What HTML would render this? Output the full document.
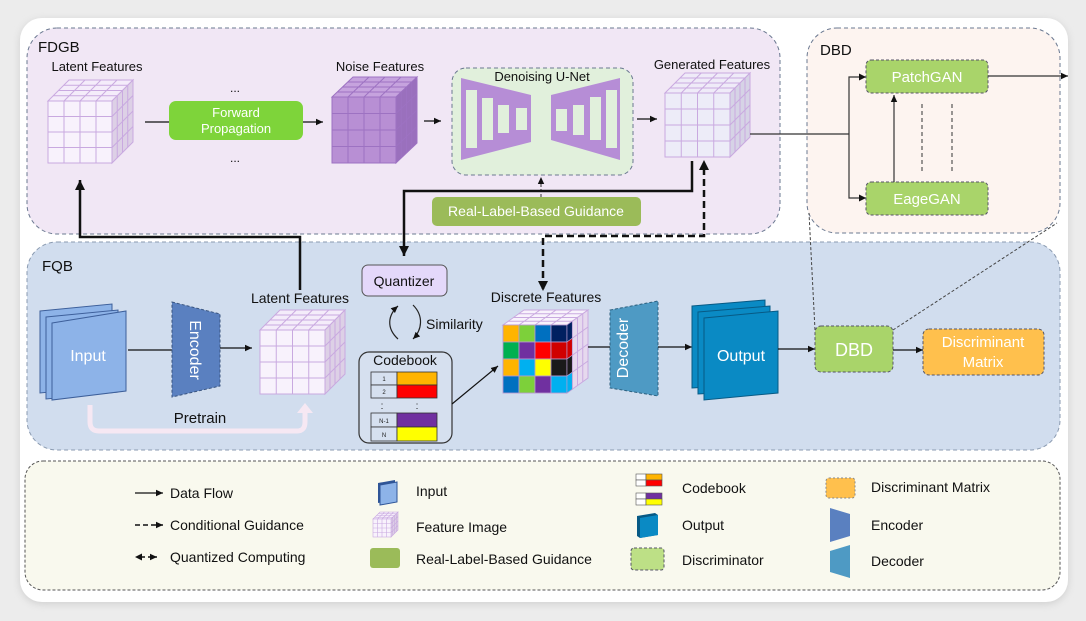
<!DOCTYPE html>
<html><head><meta charset="utf-8">
<style>
html,body{margin:0;padding:0;background:#ececec;}
svg{display:block;font-family:"Liberation Sans",Arial,sans-serif;}
</style></head>
<body>
<svg id="s" width="1086" height="621" viewBox="0 0 1086 621" xmlns="http://www.w3.org/2000/svg">
<defs>
<marker id="ah" markerWidth="8" markerHeight="8" refX="7" refY="4" orient="auto" markerUnits="userSpaceOnUse"><path d="M0,0.8 L7,4 L0,7.2 z" fill="#111"/></marker>
<marker id="ahb" markerWidth="12" markerHeight="12" refX="10" refY="6" orient="auto" markerUnits="userSpaceOnUse"><path d="M0,1 L10,6 L0,11 z" fill="#111"/></marker>
<filter id="sh" x="-5%" y="-5%" width="110%" height="110%"><feGaussianBlur stdDeviation="4"/></filter>
</defs>
<rect x="0" y="0" width="1086" height="621" fill="#ececec"/>
<rect x="20" y="20" width="1048" height="584" rx="22" fill="#cfcfcf" filter="url(#sh)"/>
<rect x="20" y="18" width="1048" height="584" rx="22" fill="#ffffff"/>

<!-- Panels -->
<rect x="27" y="28" width="753" height="206" rx="30" fill="#f1e7f5" stroke="#6a7890" stroke-dasharray="4,3"/>
<rect x="807" y="28" width="253" height="205" rx="30" fill="#fdf4f0" stroke="#6a7890" stroke-dasharray="4,3"/>
<rect x="27" y="242" width="1033" height="208" rx="30" fill="#d1ddee" stroke="#8a9ab0" stroke-dasharray="4,3"/>
<rect x="25" y="461" width="1035" height="129" rx="18" fill="#f9f9ee" stroke="#555" stroke-dasharray="3,2"/>

<text x="38" y="52" font-size="15" fill="#111">FDGB</text>
<text x="820" y="55" font-size="15" fill="#111">DBD</text>
<text x="42" y="271" font-size="15" fill="#111">FQB</text>

<text x="97" y="71" font-size="13" fill="#111" text-anchor="middle">Latent Features</text>
<text x="380" y="71" font-size="13" fill="#111" text-anchor="middle">Noise Features</text>
<text x="712" y="69" font-size="13" fill="#111" text-anchor="middle">Generated Features</text>
<text x="300" y="303" font-size="14" fill="#111" text-anchor="middle">Latent Features</text>
<text x="546" y="302" font-size="14" fill="#111" text-anchor="middle">Discrete Features</text>

<g id="cubes"></g>

<!-- Forward propagation -->
<line x1="145" y1="122" x2="169" y2="122" stroke="#111" stroke-width="1.2"/>
<rect x="169" y="101" width="134" height="39" rx="7" fill="#7ed43a"/>
<text x="236" y="117" font-size="13" fill="#fff" text-anchor="middle">Forward</text>
<text x="236" y="133" font-size="13" fill="#fff" text-anchor="middle">Propagation</text>
<line x1="303" y1="122" x2="323" y2="122" stroke="#111" stroke-width="1.2" marker-end="url(#ah)"/>
<text x="235" y="92" font-size="12" fill="#111" text-anchor="middle">...</text>
<text x="235" y="162" font-size="12" fill="#111" text-anchor="middle">...</text>
<line x1="424" y1="121" x2="441" y2="121" stroke="#111" stroke-width="1.2" marker-end="url(#ah)"/>

<!-- U-Net -->
<rect x="452" y="68" width="181" height="107" rx="14" fill="#e1f0dc" stroke="#6a7890" stroke-dasharray="4,3"/>
<text x="542" y="81" font-size="13" fill="#111" text-anchor="middle">Denoising U-Net</text>
<polygon points="461,78 531,95 531,142 461,160" fill="#b68dd6"/>
<rect x="466" y="90" width="11" height="58" fill="#e1f0dc"/>
<rect x="482" y="98" width="11" height="42" fill="#e1f0dc"/>
<rect x="498" y="105" width="11" height="28" fill="#e1f0dc"/>
<rect x="516" y="108" width="11" height="22" fill="#e1f0dc"/>
<polygon points="551,95 620,78 620,160 551,140" fill="#b68dd6"/>
<rect x="556" y="109" width="11" height="22" fill="#e1f0dc"/>
<rect x="573" y="105" width="11" height="30" fill="#e1f0dc"/>
<rect x="590" y="97" width="11" height="43" fill="#e1f0dc"/>
<rect x="606" y="90" width="11" height="58" fill="#e1f0dc"/>
<line x1="637" y1="119" x2="657" y2="119" stroke="#111" stroke-width="1.2" marker-end="url(#ah)"/>

<!-- Real label -->
<rect x="432" y="197" width="209" height="29" rx="5" fill="#9bbb59"/>
<text x="536" y="216" font-size="14" fill="#fff" text-anchor="middle">Real-Label-Based Guidance</text>
<line x1="541" y1="197" x2="541" y2="177" stroke="#333" stroke-width="1" stroke-dasharray="3,2" marker-end="url(#ah)"/>

<!-- thick lines -->
<polyline points="692,161 692,191 404,191 404,256" fill="none" stroke="#111" stroke-width="2.5" marker-end="url(#ahb)"/>
<polyline points="543,289 543,236 704,236 704,163" fill="none" stroke="#111" stroke-width="2.5" stroke-dasharray="7,4"/>
<path d="M699,170 L704,160 L709,170 z" fill="#111"/>
<path d="M538,281 L543,291 L548,281 z" fill="#111"/>
<polyline points="300,290 300,237 80,237 80,180" fill="none" stroke="#111" stroke-width="2.5" marker-end="url(#ahb)"/>

<!-- Quantizer -->
<rect x="362" y="265" width="85" height="31" rx="6" fill="#e4d8fa" stroke="#555" stroke-width="1"/>
<text x="404" y="286" font-size="14" fill="#111" text-anchor="middle">Quantizer</text>
<path d="M398,339 C386,328 388,315 398,306" fill="none" stroke="#222" stroke-width="1.2" marker-end="url(#ah)"/>
<path d="M413,305 C424,316 422,330 413,339" fill="none" stroke="#222" stroke-width="1.2" marker-end="url(#ah)"/>
<text x="426" y="329" font-size="14" fill="#111">Similarity</text>

<!-- Codebook -->
<rect x="359" y="352" width="93" height="91" rx="10" fill="#d6e0ef" stroke="#333" stroke-width="1.2"/>
<text x="405" y="365" font-size="14" fill="#111" text-anchor="middle">Codebook</text>
<g stroke="#333" stroke-width="0.8">
<rect x="371" y="372" width="26" height="13" fill="#d6e0ef"/><rect x="397" y="372" width="40" height="13" fill="#ffb400"/>
<rect x="371" y="385" width="26" height="13" fill="#d6e0ef"/><rect x="397" y="385" width="40" height="13" fill="#ff0000"/>
<rect x="371" y="413" width="26" height="14" fill="#d6e0ef"/><rect x="397" y="413" width="40" height="14" fill="#7030a0"/>
<rect x="371" y="427" width="26" height="14" fill="#d6e0ef"/><rect x="397" y="427" width="40" height="14" fill="#ffff00"/>
</g>
<g font-size="6" fill="#222" text-anchor="middle">
<text x="384" y="381">1</text><text x="384" y="394">2</text><text x="384" y="423">N-1</text><text x="384" y="437">N</text></g>
<text x="382" y="409" font-size="10" fill="#222" text-anchor="middle">:</text>
<text x="417" y="409" font-size="10" fill="#222" text-anchor="middle">:</text>
<line x1="452" y1="404" x2="498" y2="366" stroke="#111" stroke-width="1.2" marker-end="url(#ah)"/>

<!-- Input stack -->
<polygon points="40,311 112,304 112,386 40,393" fill="#8db3e8" stroke="#3d5f9a"/>
<polygon points="46,317 118,310 118,392 46,399" fill="#8db3e8" stroke="#3d5f9a"/>
<polygon points="52,323 126,311 126,391 52,400" fill="#8db3e8" stroke="#3d5f9a"/>
<text x="88" y="361" font-size="16" fill="#fff" text-anchor="middle">Input</text>
<line x1="128" y1="350" x2="172" y2="350" stroke="#111" stroke-width="1.2"/>
<polygon points="172,302 220,314 220,386 172,397" fill="#5a80c0" stroke="#3a5580" stroke-dasharray="3,2"/>
<text x="0" y="0" font-size="16" fill="#fff" text-anchor="middle" transform="translate(190,350) rotate(90)">Encoder</text>
<line x1="220" y1="348" x2="252" y2="348" stroke="#111" stroke-width="1.2" marker-end="url(#ah)"/>
<!-- pretrain -->
<path d="M90,405 L90,422 Q90,431 99,431 L297,431 Q305,431 305,422 L305,412" fill="none" stroke="#f6e8f3" stroke-width="5"/>
<path d="M297,413 L305,403 L313,413 z" fill="#f6e8f3"/>
<text x="200" y="423" font-size="15" fill="#111" text-anchor="middle">Pretrain</text>

<!-- Decoder / output -->
<line x1="588" y1="347" x2="610" y2="347" stroke="#111" stroke-width="1.2"/>
<polygon points="610,310 658,301 658,396 610,388" fill="#4e9ac4" stroke="#2d607f" stroke-dasharray="3,2"/>
<text x="0" y="0" font-size="16" fill="#fff" text-anchor="middle" transform="translate(628,348) rotate(-90)">Decoder</text>
<line x1="658" y1="347" x2="692" y2="347" stroke="#111" stroke-width="1.2" marker-end="url(#ah)"/>
<polygon points="692,306 765,300 765,384 692,388" fill="#0a8ac4" stroke="#075a85"/>
<polygon points="698,312 770,306 770,390 698,394" fill="#0a8ac4" stroke="#075a85"/>
<polygon points="704,318 778,311 778,393 704,400" fill="#0a8ac4" stroke="#075a85"/>
<text x="741" y="361" font-size="16" fill="#fff" text-anchor="middle">Output</text>
<line x1="778" y1="349" x2="815" y2="349" stroke="#111" stroke-width="1.2" marker-end="url(#ah)"/>

<!-- DBD small & matrix -->
<line x1="815" y1="330" x2="809" y2="213" stroke="#444" stroke-width="1" stroke-dasharray="3,2"/>
<line x1="893" y1="330" x2="1057" y2="223" stroke="#444" stroke-width="1" stroke-dasharray="3,2"/>
<rect x="815" y="326" width="78" height="46" rx="6" fill="#a9d46a" stroke="#556" stroke-dasharray="3,2"/>
<text x="854" y="356" font-size="18" fill="#fff" text-anchor="middle">DBD</text>
<line x1="893" y1="350" x2="923" y2="350" stroke="#111" stroke-width="1.2" marker-end="url(#ah)"/>
<rect x="923" y="329" width="121" height="46" rx="6" fill="#ffc04d" stroke="#556" stroke-dasharray="3,2"/>
<text x="983" y="347" font-size="15" fill="#fff" text-anchor="middle">Discriminant</text>
<text x="983" y="367" font-size="15" fill="#fff" text-anchor="middle">Matrix</text>

<!-- DBD big -->
<line x1="750" y1="134" x2="849" y2="134" stroke="#333" stroke-width="1.2"/>
<polyline points="866,77 849,77 849,198 866,198" fill="none" stroke="#333" stroke-width="1.2"/>
<path d="M859,73.5 L866,77 L859,80.5 z" fill="#111"/><path d="M859,194.5 L866,198 L859,201.5 z" fill="#111"/>
<rect x="866" y="60" width="122" height="33" rx="5" fill="#a9d46a" stroke="#556" stroke-dasharray="3,2"/>
<text x="927" y="82" font-size="15" fill="#fff" text-anchor="middle">PatchGAN</text>
<rect x="866" y="182" width="122" height="33" rx="5" fill="#a9d46a" stroke="#556" stroke-dasharray="3,2"/>
<text x="927" y="204" font-size="15" fill="#fff" text-anchor="middle">EageGAN</text>
<line x1="894" y1="182" x2="894" y2="95" stroke="#333" stroke-width="1.2" marker-end="url(#ah)"/>
<line x1="922" y1="104" x2="922" y2="172" stroke="#333" stroke-width="1" stroke-dasharray="4,3"/>
<line x1="952" y1="104" x2="952" y2="172" stroke="#333" stroke-width="1" stroke-dasharray="4,3"/>
<line x1="988" y1="76" x2="1068" y2="76" stroke="#333" stroke-width="1.2" marker-end="url(#ah)"/>

<!-- Legend -->
<g font-size="14" fill="#111">
<line x1="135" y1="493" x2="163" y2="493" stroke="#111" stroke-width="1.2" marker-end="url(#ah)"/>
<text x="170" y="498">Data Flow</text>
<line x1="135" y1="525" x2="163" y2="525" stroke="#111" stroke-width="1.5" stroke-dasharray="5,3" marker-end="url(#ah)"/>
<text x="170" y="530">Conditional Guidance</text>
<line x1="141" y1="557" x2="157" y2="557" stroke="#111" stroke-width="1.5" stroke-dasharray="4,3" marker-end="url(#ah)"/>
<path d="M142,553.5 L135,557 L142,560.5 z" fill="#111"/>
<text x="170" y="562">Quantized Computing</text>

<polygon points="378,483 395,480 395,500 378,503" fill="#2f5597"/>
<polygon points="380,485 397,482 397,502 380,505" fill="#8db3e8" stroke="#2f5597"/>
<text x="416" y="496">Input</text>
<g id="legcube"></g>
<text x="416" y="532">Feature Image</text>
<rect x="370" y="548" width="30" height="20" rx="3" fill="#9bbb59"/>
<text x="416" y="564">Real-Label-Based Guidance</text>

<g stroke="#555" stroke-width="0.6">
<rect x="636" y="474" width="10" height="6" fill="#fff"/><rect x="646" y="474" width="16" height="6" fill="#ffb400"/>
<rect x="636" y="480" width="10" height="6" fill="#fff"/><rect x="646" y="480" width="16" height="6" fill="#ff0000"/>
<rect x="636" y="493" width="10" height="6" fill="#fff"/><rect x="646" y="493" width="16" height="6" fill="#7030a0"/>
<rect x="636" y="499" width="10" height="6" fill="#fff"/><rect x="646" y="499" width="16" height="6" fill="#ffff00"/>
</g>
<text x="682" y="493">Codebook</text>
<polygon points="637,516 655,513 658,515 658,535 640,538 637,536" fill="#075a85"/>
<polygon points="640,518 658,515 658,535 640,538" fill="#0a8ac4"/>
<text x="682" y="530">Output</text>
<rect x="631" y="548" width="33" height="22" rx="3" fill="#bde086" stroke="#556" stroke-dasharray="3,2"/>
<text x="682" y="565">Discriminator</text>

<rect x="826" y="478" width="29" height="20" rx="3" fill="#ffc04d" stroke="#888" stroke-dasharray="2,2"/>
<text x="871" y="492">Discriminant Matrix</text>
<polygon points="830,508 850,514 850,536 830,542" fill="#5a80c0"/>
<text x="871" y="530">Encoder</text>
<polygon points="830,551 850,545 850,578 830,572" fill="#4e9ac4"/>
<text x="871" y="566">Decoder</text>
</g>
</svg>
<script>
(function(){
var NS="http://www.w3.org/2000/svg";
function el(p,t,a){var e=document.createElementNS(NS,t);for(var k in a)e.setAttribute(k,a[k]);p.appendChild(e);return e;}
function cube(g,x,y,w,h,dx,dy,o){
 var front=o.front,top=o.top,side=o.side,ln=o.line,sw=o.sw||1;
 el(g,"polygon",{points:[x,y,x+dx,y-dy,x+w+dx,y-dy,x+w,y].join(","),fill:top,stroke:ln,"stroke-width":sw});
 el(g,"polygon",{points:[x+w,y,x+w+dx,y-dy,x+w+dx,y+h-dy,x+w,y+h].join(","),fill:side,stroke:ln,"stroke-width":sw});
 el(g,"rect",{x:x,y:y,width:w,height:h,fill:front,stroke:ln,"stroke-width":sw});
 var d="";
 for(var i=1;i<4;i++){
  var fx=x+w*i/4, fy=y+h*i/4, f=i/4;
  d+="M"+fx+","+y+"V"+(y+h);
  d+="M"+x+","+fy+"H"+(x+w);
  d+="M"+fx+","+y+"L"+(fx+dx)+","+(y-dy);
  d+="M"+(x+dx*f)+","+(y-dy*f)+"H"+(x+w+dx*f);
  d+="M"+(x+w+dx*f)+","+(y-dy*f)+"V"+(y+h-dy*f);
  d+="M"+(x+w)+","+fy+"L"+(x+w+dx)+","+(fy-dy);
 }
 el(g,"path",{d:d,fill:"none",stroke:ln,"stroke-width":sw});
 if(o.colors){
  var cw=w/4,ch=h/4;
  for(var r=0;r<4;r++)for(var c=0;c<4;c++){
   el(g,"rect",{x:x+c*cw,y:y+r*ch,width:cw,height:ch,fill:o.colors[r][c],stroke:"#b89ad0","stroke-width":0.8});
  }
  for(var r2=0;r2<4;r2++){
   var yy=y+r2*ch;
   el(g,"polygon",{points:[x+w,yy,x+w+dx/4,yy-dy/4,x+w+dx/4,yy+ch-dy/4,x+w,yy+ch].join(","),fill:o.colors[r2][3],stroke:"#b89ad0","stroke-width":0.6});
  }
 }
}
var g=document.getElementById("cubes");
var L={front:"#f8f2fc",top:"#f4ecfa",side:"#ddd0e6",line:"#c9a9e0"};
cube(g,48,101,64,62,21,21,L);
cube(g,332,97,64,66,21,20,{front:"#b88fd4",top:"#c6a3de",side:"#9a70bd",line:"#9d72c2"});
cube(g,665,93,65,64,20,20,{front:"#edecf8",top:"#efebf8",side:"#d6d3e6",line:"#c9a9e0"});
cube(g,260,330,65,64,20,20,L);
var C=[["#ffb400","#7dd03a","#0070c0","#002060"],["#00b050","#7030a0","#ff0000","#d00000"],["#ffb400","#00b0f0","#ffff00","#1a1a1a"],["#0070c0","#7dd03a","#7030a0","#00b0f0"]];
cube(g,503,325,64,68,21,15,{front:"#fff",top:"#f8f2fc",side:"#e6d9ee",line:"#c9a9e0",colors:C});
cube(document.getElementById("legcube"),373,519,18,18,7,7,{front:"#f8f2fc",top:"#f4ecfa",side:"#ddd0e6",line:"#c9a9e0",sw:0.6});
})();
</script>
</body></html>
